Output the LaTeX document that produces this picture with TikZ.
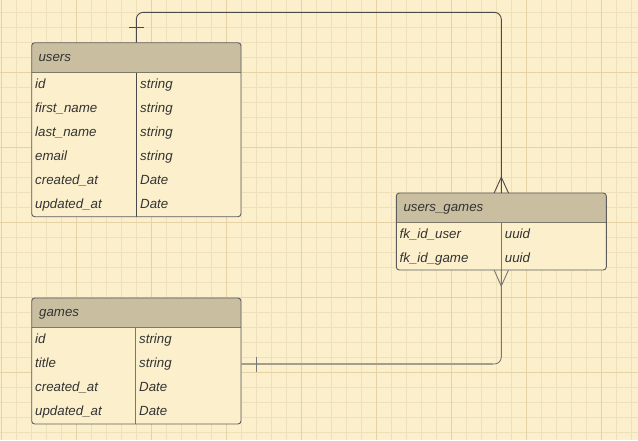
\documentclass[tikz,border=0pt]{standalone}
\usepackage{fontspec}
\setmainfont{Liberation Sans}
\usetikzlibrary{calc}
\definecolor{bgc}{HTML}{FCEFCB}
\definecolor{gridminor}{HTML}{F0E0B9}
\definecolor{gridmajor}{HTML}{E5D3A7}
\definecolor{hdrc}{HTML}{C9BFA0}
\definecolor{edgec}{HTML}{5C5C5C}
\definecolor{sepc}{HTML}{7D7868}
\definecolor{txtc}{HTML}{333333}
\definecolor{linka}{HTML}{4A4A4A}
\definecolor{linkm}{HTML}{777777}
\definecolor{linkb}{HTML}{A39E8A}
\begin{document}
\begin{tikzpicture}[x=1pt,y=-1pt,
  tbl/.style={fill=bgc, rectangle, inner sep=0pt, outer sep=0pt, anchor=north west},
  cell/.style={anchor=base west, inner sep=0pt, font=\itshape\fontsize{13.3}{16}\selectfont, text=txtc},
  edge/.style={draw=edgec, line width=0.9pt},
  sep/.style={draw=sepc, line width=1.3pt},
  conna/.style={draw=linka, line width=0.9pt},
  connm/.style={draw=linkm, line width=0.9pt},
  connb/.style={draw=linkb, line width=1.3pt}]
\fill[bgc] (0,0) rectangle (638,440);
\useasboundingbox (0,0) rectangle (638,440);
% grid
\foreach \k in {0,...,42} {\draw[gridminor, line width=0.9pt] (1.7+15*\k,0) -- (1.7+15*\k,440);}
\foreach \k in {0,...,28} {\draw[gridminor, line width=0.9pt] (0,12.7+15*\k) -- (638,12.7+15*\k);}
\foreach \k in {0,...,8} {\draw[gridmajor, line width=1pt] (1.7+75*\k,0) -- (1.7+75*\k,440);}
\foreach \k in {0,...,4} {\draw[gridmajor, line width=1pt] (0,72.7+75*\k) -- (638,72.7+75*\k);}

% ---------- users ----------
\node[tbl, minimum width=209.3pt, minimum height=174pt] (users) at (31.7,42.7) {};
\begin{scope}
\clip[rounded corners=3pt] (users.north west) rectangle (users.south east);
\fill[hdrc] (users.north west) rectangle ([yshift=-30pt]users.north east);
\end{scope}
\draw[sep] ([yshift=-30pt]users.north west) -- ([yshift=-30pt]users.north east);
\draw[edge, draw=linka] (136.3,72.7) -- (136.3,216.7);
\draw[edge, rounded corners=3pt] (users.north west) rectangle (users.south east);
\node[cell] (uh) at (38.3,61.5) {users};
\foreach \n/\t [count=\i] in {id/string,first\_name/string,last\_name/string,email/string,created\_at/Date,updated\_at/Date} {
  \node[cell] (un\i) at (35,64.7+24*\i) {\n};
  \node[cell] (ut\i) at (140,64.7+24*\i) {\t};
}

% ---------- games ----------
\node[tbl, minimum width=209.3pt, minimum height=126pt] (games) at (31.7,298) {};
\begin{scope}
\clip[rounded corners=3pt] (games.north west) rectangle (games.south east);
\fill[hdrc] (games.north west) rectangle ([yshift=-29.7pt]games.north east);
\end{scope}
\draw[sep] ([yshift=-29.7pt]games.north west) -- ([yshift=-29.7pt]games.north east);
\draw[edge, draw=linkm] (135.3,327.7) -- (135.3,424);
\draw[edge, rounded corners=3pt] (games.north west) rectangle (games.south east);
\node[cell] (gh) at (39,316.3) {games};
\foreach \n/\t [count=\i] in {id/string,title/string,created\_at/Date,updated\_at/Date} {
  \node[cell] (gn\i) at (35,319.7+24*\i) {\n};
  \node[cell] (gt\i) at (139,319.7+24*\i) {\t};
}

% ---------- users_games ----------
\node[tbl, minimum width=210pt, minimum height=77pt] (ug) at (396.3,193) {};
\begin{scope}
\clip[rounded corners=3pt] (ug.north west) rectangle (ug.south east);
\fill[hdrc] (ug.north west) rectangle ([yshift=-29.3pt]ug.north east);
\end{scope}
\draw[sep] ([yshift=-29.3pt]ug.north west) -- ([yshift=-29.3pt]ug.north east);
\draw[edge, draw=linkm] (501.3,222.3) -- (501.3,270);
\draw[edge, rounded corners=3pt] (ug.north west) rectangle (ug.south east);
\node[cell] (ugh) at (403.3,211) {users\_games};
\foreach \n/\t [count=\i] in {fk\_id\_user/uuid,fk\_id\_game/uuid} {
  \node[cell] (ugn\i) at (399.5,214.3+24*\i) {\n};
  \node[cell] (ugt\i) at (504.7,214.3+24*\i) {\t};
}

% ---------- connectors ----------
\coordinate (uconn) at ([xshift=104.6pt]users.north west);
\draw[conna, rounded corners=7pt] (uconn) -- ++(0,-30.4) -| (ug.north);
\draw[conna] ([shift={(-7.5pt,15.4pt)}]uconn) -- ++(15,0);
\draw[conna] ([xshift=-7.2pt]ug.north) -- ([yshift=15.7pt]ug.north) -- ([xshift=7.2pt]ug.north);

\draw[connm, rounded corners=7pt] (ug.south) |- ([yshift=-3pt]games.east);
\draw[connb] ([yshift=-3pt]games.east) -- ++(252,0);
\draw[connm] ([xshift=-7.2pt]ug.south) -- ([yshift=-16pt]ug.south) -- ([xshift=7.2pt]ug.south);
\draw[connm] ([shift={(15.3pt,4.3pt)}]games.east) -- ++(0,15.6);
\end{tikzpicture}
\end{document}
